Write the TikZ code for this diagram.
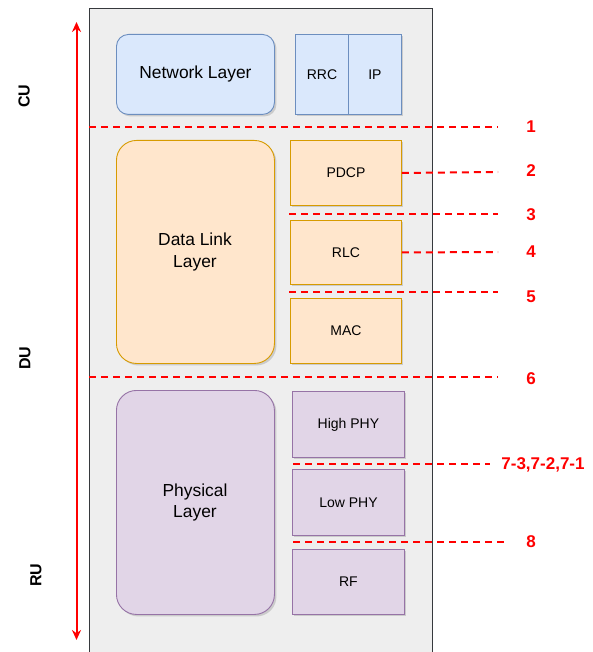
\documentclass[tikz,border=0pt]{standalone}
\usepackage{fontspec}
\setmainfont{Liberation Sans}
\usetikzlibrary{arrows.meta,shadows}
\definecolor{bgfill}{HTML}{EEEEEE}
\definecolor{bgdraw}{HTML}{36393D}
\definecolor{bluefill}{HTML}{DAE8FC}
\definecolor{bluedraw}{HTML}{6C8EBF}
\definecolor{orfill}{HTML}{FFE6CC}
\definecolor{ordraw}{HTML}{D79B00}
\definecolor{pufill}{HTML}{E1D5E7}
\definecolor{pudraw}{HTML}{9673A6}
\definecolor{splitred}{HTML}{FF0000}
\tikzset{
  box/.style={draw, line width=0.9pt, inner sep=0pt, anchor=north west,
    drop shadow={shadow xshift=2pt, shadow yshift=-2pt, opacity=0.25, fill=black!60}},
  bluebox/.style={box, fill=bluefill, draw=bluedraw},
  orbox/.style={box, fill=orfill, draw=ordraw},
  pubox/.style={box, fill=pufill, draw=pudraw},
  smalltxt/.style={font=\fontsize{14}{16}\selectfont},
  bigtxt/.style={font=\fontsize{17.4}{21}\selectfont, align=center},
  split/.style={draw=splitred, line width=2pt, dash pattern=on 7pt off 5pt},
  splitlabel/.style={text=splitred, font=\fontsize{17}{20}\selectfont\bfseries, anchor=center},
  unitlabel/.style={font=\fontsize{16}{19}\selectfont\bfseries, rotate=90, anchor=center},
}
\begin{document}
\begin{tikzpicture}[x=1pt,y=-1pt]
\useasboundingbox (0,0) rectangle (592,652);
% background panel
\node[draw=bgdraw, fill=bgfill, line width=0.9pt, anchor=north west, inner sep=0pt,
  minimum width=343pt, minimum height=660pt] (panel) at (89,8) {};
% left arrow
\coordinate (atop) at (76.5,22);
\coordinate (abot) at (76.5,640);
\draw[splitred, line width=2pt, {Stealth[length=10pt,width=9pt]}-{Stealth[length=10pt,width=9pt]}] (atop) -- (abot);
\node[unitlabel] (cu) at (24,96) {CU};
\node[unitlabel] (du) at (25,358) {DU};
\node[unitlabel] (ru) at (36,575) {RU};
% blue
\node[bluebox, rounded corners=12pt, minimum width=158pt, minimum height=80pt] (net) at (116,34) {};
\node[bigtxt] (netl) at (net.center) {Network Layer};
\node[bluebox, minimum width=53pt, minimum height=80pt] (rrc) at (295,34) {};
\node[smalltxt] at (rrc.center) {RRC};
\node[bluebox, minimum width=53pt, minimum height=80pt] (ip) at (348,34) {};
\node[smalltxt] at (ip.center) {IP};
% orange
\node[orbox, rounded corners=20pt, minimum width=158pt, minimum height=223pt] (dll) at (116,140) {};
\node[bigtxt] (dllt) at (195,252) {Data Link\\Layer};
\node[orbox, minimum width=111pt, minimum height=65pt] (pdcp) at (290,140) {};
\node[smalltxt] at (pdcp.center) {PDCP};
\node[orbox, minimum width=111pt, minimum height=64pt] (rlc) at (290,220) {};
\node[smalltxt] at (rlc.center) {RLC};
\node[orbox, minimum width=111pt, minimum height=65pt] (mac) at (290,298) {};
\node[smalltxt] at (mac.center) {MAC};
% purple
\node[pubox, rounded corners=20pt, minimum width=158pt, minimum height=224pt] (phy) at (116,390) {};
\node[bigtxt] (phyt) at (195,502) {Physical\\Layer};
\node[pubox, minimum width=112pt, minimum height=66pt] (hphy) at (292,391) {};
\node[smalltxt] at (hphy.center) {High PHY};
\node[pubox, minimum width=112pt, minimum height=66pt] (lphy) at (292,469) {};
\node[smalltxt] at (lphy.center) {Low PHY};
\node[pubox, minimum width=112pt, minimum height=65pt] (rf) at (292,549) {};
\node[smalltxt] at (rf.center) {RF};
% split lines
\node[splitlabel] (s1) at (531,127) {1};
\node[splitlabel] (s2) at (531,171) {2};
\node[splitlabel] (s3) at (531,215) {3};
\node[splitlabel] (s4) at (531,252) {4};
\node[splitlabel] (s5) at (531,297) {5};
\node[splitlabel] (s6) at (531,379) {6};
\node[splitlabel] (s7) at (543,465) {7-3,7-2,7-1};
\node[splitlabel] (s8) at (531,542) {8};
\coordinate (l1a) at (89,127);  \coordinate (l1b) at (498,127);
\coordinate (l2b) at (498,172);
\coordinate (l3a) at (289,214); \coordinate (l3b) at (498,214);
\coordinate (l4b) at (498,252);
\coordinate (l5a) at (289,292); \coordinate (l5b) at (498,292);
\coordinate (l6a) at (89,377);  \coordinate (l6b) at (498,377);
\coordinate (l7a) at (293,464); \coordinate (l7b) at (490,464);
\coordinate (l8a) at (293,542); \coordinate (l8b) at (504,542);
\draw[split] (l1a) -- (l1b);
\draw[split] (pdcp.east) -- (l2b);
\draw[split] (l3a) -- (l3b);
\draw[split] (rlc.east) -- (l4b);
\draw[split] (l5a) -- (l5b);
\draw[split] (l6a) -- (l6b);
\draw[split] (l7a) -- (l7b);
\draw[split] (l8a) -- (l8b);
\end{tikzpicture}
\end{document}
